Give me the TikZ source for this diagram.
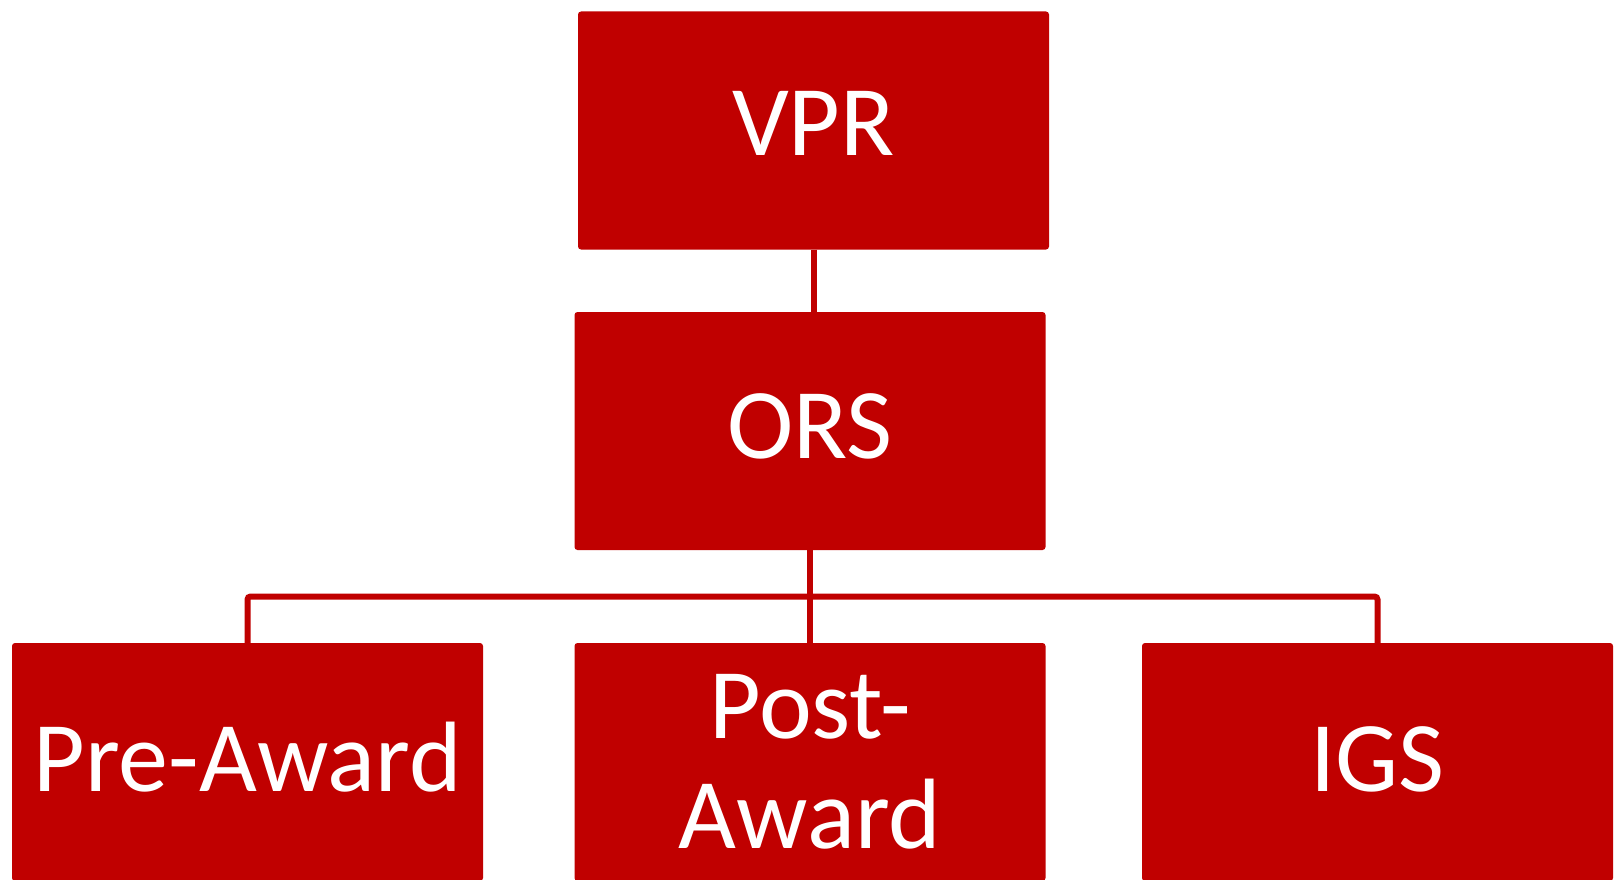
\documentclass[tikz,border=0pt]{standalone}
\usepackage{fontspec}
\setmainfont{Carlito}
\usepackage{tikz}
\usetikzlibrary{positioning}
\definecolor{orgred}{HTML}{C00000}

\begin{document}
\begin{tikzpicture}[x=1pt, y=-1pt, orgbox/.style={fill=orgred, rounded corners=3pt, minimum width=471pt, minimum height=238pt, inner sep=0pt, outer sep=0pt, text=white, font=\fontsize{100pt}{110pt}\selectfont}, link/.style={draw=orgred, line width=6pt, rounded corners=3pt}]
		\useasboundingbox (0, 0) rectangle (1614, 880);
		\node[orgbox, text height=49pt, text depth=0pt](vpr) at (813.5, 130.5) {VPR};
		\node[orgbox, text height=54pt, text depth=0pt](ors) at (810, 431) {ORS};
		\node[orgbox, text height=58pt, text depth=0pt](pre) at (247.5, 762) {Pre-Award};
		\node[orgbox, align=center](post) at (810, 762) {Post-\\Award};
		\node[orgbox, text height=58pt, text depth=0pt](igs) at (1377.5, 762) {IGS};
		
		\coordinate (bus) at (810, 596.5);
		
		\draw[link] (vpr.south) -- (vpr.south |- ors.north);
		\draw[link] (ors.south) -- (post.north);
		\draw[link] (pre.north) |- (bus) -| (igs.north);
		\end{tikzpicture}
\end{document}
